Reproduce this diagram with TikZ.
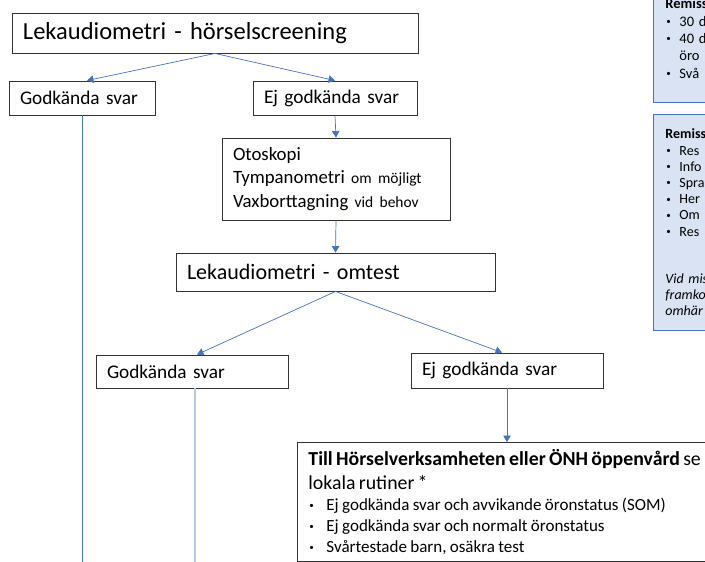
\documentclass[tikz,border=0pt]{standalone}
\usepackage{fontspec}
\setmainfont{Carlito}
\usetikzlibrary{arrows.meta, positioning, calc}
\definecolor{lineblue}{RGB}{68,114,196}
\definecolor{paleblue}{RGB}{180,199,231}
\definecolor{notefill}{RGB}{218,227,243}
\newcommand{\bul}[2][18pt]{\makebox[#1][l]{\hspace*{1pt}\raisebox{1.6pt}{\fontsize{9}{9}\selectfont\textbullet}}#2}

\begin{document}
\begin{tikzpicture}[x=1pt, y=-1pt,
            box/.style={draw=black!80, line width=0.9pt, inner xsep=11pt, inner ysep=0pt, align=left},
            note/.style={draw=lineblue, fill=notefill, line width=0.9pt, anchor=north west, align=left, inner xsep=12pt, inner ysep=0pt, text width=200pt},
            arr/.style={-{Triangle[width=7.5pt,length=6.5pt]}, lineblue, line width=0.7pt},
            lane/.style={lineblue, line width=0.9pt}
        ]
            \useasboundingbox (0,0) rectangle (705,562);
            \clip (0,0) rectangle (705,562);

            \node[box, text width=384pt, minimum height=40pt, font=\fontsize{24.5}{28}\selectfont] (screen) at (215,33) {Lekaudiometri - hörselscreening};
            \node[box, text width=124pt, minimum height=34pt, font=\fontsize{19.3}{23}\selectfont] (pass1) at (82,98) {Godkända svar};
            \node[box, text width=142pt, minimum height=34pt, font=\fontsize{19.3}{23}\selectfont] (fail1) at (335,98) {Ej godkända svar};
            \node[box, text width=206pt, minimum height=82pt, font=\fontsize{18.8}{23.5}\selectfont] (check) at (336,179) {Otoskopi\\Tympanometri {\fontsize{15.5}{18}\selectfont om möjligt}\\Vaxborttagning {\fontsize{15.5}{18}\selectfont vid behov}};
            \node[box, text width=297pt, minimum height=38pt, font=\fontsize{22}{26}\selectfont] (retest) at (335.5,272) {Lekaudiometri - omtest};
            \node[box, text width=170pt, minimum height=33pt, font=\fontsize{19.3}{23}\selectfont] (pass2) at (192,371.5) {Godkända svar};
            \node[box, text width=170pt, minimum height=35pt, font=\fontsize{19.3}{23}\selectfont] (fail2) at (507,370.5) {Ej godkända svar};
            \node[box, anchor=north west, text width=440pt, minimum height=119pt] (refer) at (297,442) {{\fontsize{19.8}{24}\selectfont\textbf{Till Hörselverksamheten eller ÖNH öppenvård} se\\lokala rutiner *\par}{\fontsize{17}{21}\selectfont\bul{Ej godkända svar och avvikande öronstatus (SOM)}\\\bul{Ej godkända svar och normalt öronstatus}\\\bul{Svårtestade barn, osäkra test}\par}};

            \node[note, minimum height=128pt, font=\fontsize{14.5}{17.4}\selectfont] (remissA) at (653,-26) {\textbf{Remiss}\\\bul[14pt]{30 d}\\\bul[14pt]{40 d}\\\hspace*{14pt}öro\\\bul[14pt]{Svå}};
            \node[note, minimum height=216pt, font=\fontsize{14}{16.2}\selectfont] (remissB) at (653,114) {\textbf{Remiss}\\\bul[14pt]{Res}\\\bul[14pt]{Info}\\\bul[14pt]{Spra}\\\bul[14pt]{Her}\\\bul[14pt]{Om}\\\bul[14pt]{Res}\\[31pt]\textit{Vid mis}\\\textit{framko}\\\textit{omhär}};

            \coordinate (pass1end) at (82,562);
            \coordinate (pass2end) at (195,562);

            \draw[arr] (screen.south) -- ([xshift=5pt]pass1.north);
            \draw[arr] (screen.south) -- (fail1.north);
            \draw[arr] (fail1.south) -- (check.north);
            \draw[arr] (check.south) -- (retest.north);
            \draw[arr] (retest.south) -- ([xshift=5pt]pass2.north);
            \draw[arr] (retest.south) -- ([xshift=-5pt]fail2.north);
            \draw[arr] (fail2.south) -- (fail2.south |- refer.north);
            \draw[lane] (pass1.south) -- (pass1end);
            \draw[lane, paleblue, line width=1.8pt] ([xshift=3pt]pass2.south) -- (pass2end);
        \end{tikzpicture}
\end{document}
